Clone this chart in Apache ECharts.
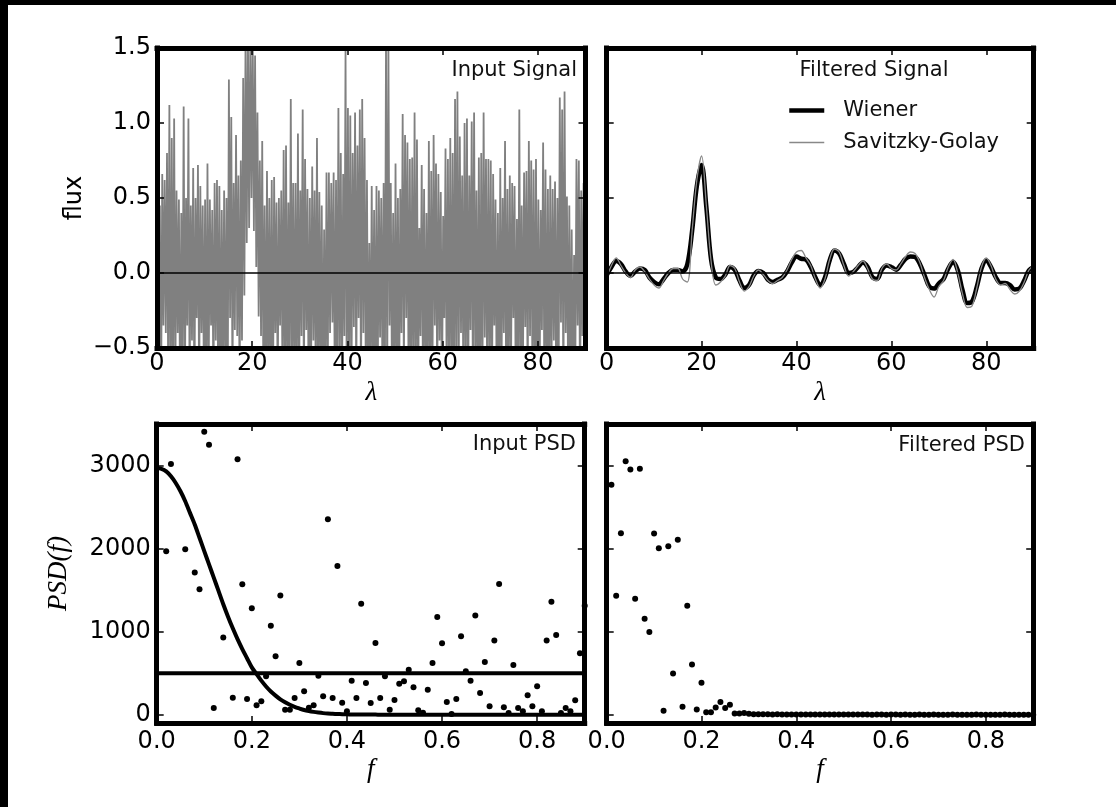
<!DOCTYPE html>
<html><head><meta charset="utf-8">
<script src="https://cdn.jsdelivr.net/npm/echarts@6/dist/echarts.min.js"></script>
<style>html,body{margin:0;padding:0;background:#fff;} #c{width:1116px;height:807px;}</style>
</head><body><div id="c"></div>
<script>
// ---------- DATA ----------
// Input signal: per 0.5-lambda bin, the local maximum and minimum of the noisy flux
const SIG_BIN = 0.5;
const sigHi = [
 0.92,0.45,0.66,0.62,0.80,1.12,0.90,1.03,0.55,0.49,
 0.40,1.11,0.50,1.03,0.45,0.70,0.50,0.72,0.58,0.45,
 0.49,0.73,0.49,0.42,0.60,0.62,0.58,0.42,0.55,0.50,
 1.29,1.04,0.60,0.92,0.65,0.75,1.30,1.60,1.60,1.55,
 1.60,1.45,1.07,0.75,0.88,0.45,0.68,0.50,0.62,0.64,
 0.47,0.50,0.55,0.82,0.85,0.47,1.16,0.60,0.60,0.93,
 0.55,1.09,0.76,0.56,0.50,0.71,0.55,0.90,0.54,0.45,
 0.29,0.67,0.67,0.60,0.67,0.62,1.10,0.80,0.66,1.48,
 1.10,1.05,0.80,1.07,0.85,1.09,1.16,0.90,0.62,0.20,
 0.58,0.42,0.58,0.55,0.50,0.60,1.55,1.55,0.60,0.40,
 0.73,0.50,0.56,1.06,0.92,0.87,0.76,0.77,1.07,0.89,
 0.30,0.72,0.56,0.40,0.88,0.68,0.92,0.73,0.66,0.54,
 0.38,0.83,0.76,0.90,0.80,1.16,1.21,0.91,0.65,1.00,
 1.03,0.65,1.01,1.07,0.55,0.77,0.80,1.07,0.76,0.76,
 0.75,0.66,0.49,0.40,0.70,0.50,0.88,0.56,0.65,0.60,
 0.58,0.36,1.09,0.45,0.67,0.68,0.88,0.75,0.69,0.76,
 0.49,0.42,0.87,0.69,0.56,0.65,0.56,0.61,0.50,1.17,
 1.09,1.21,0.51,0.45,0.29,0.12,0.76,0.75,0.55,0.60
];
const sigLo = [
 -0.8,-0.9,-0.35,-0.4,-0.7,-0.95,-0.8,-0.75,-0.4,-0.9,
 -0.7,-0.85,-0.35,-0.8,-0.45,-0.9,-0.3,-0.8,-0.4,-0.75,
 -0.9,-0.7,-0.35,-0.85,-0.45,-0.8,-0.9,-0.7,-0.8,-0.85,
 -0.3,-0.75,-0.38,-0.42,-0.8,-0.45,-0.15,0.20,0.30,0.50,
 0.28,0.04,-0.29,-0.42,-0.8,-0.9,-0.75,-0.8,-0.95,-0.4,
 -0.8,-0.35,-0.7,-0.9,-0.8,-0.75,-0.85,-0.7,-0.9,-0.8,
 -0.42,-0.8,-0.38,-0.9,-0.75,-0.45,-0.8,-0.85,-0.7,-0.9,
 -0.8,-0.75,-0.4,-0.33,-0.9,-0.8,-0.7,-0.85,-0.42,-0.8,
 -0.9,-0.75,-0.36,-0.8,-0.3,-0.85,-0.4,-0.7,-0.9,-0.8,
 -0.75,-0.85,-0.8,-0.43,-0.7,-0.9,-0.8,-0.35,-0.75,-0.85,
 -0.8,-0.9,-0.4,-0.7,-0.3,-0.85,-0.8,-0.75,-0.9,-0.8,
 -0.42,-0.7,-0.85,-0.8,-0.9,-0.75,-0.35,-0.8,-0.45,-0.9,
 -0.3,-0.8,-0.75,-0.85,-0.9,-0.7,-0.8,-0.4,-0.85,-0.75,
 -0.9,-0.38,-0.8,-0.7,-0.85,-0.9,-0.75,-0.43,-0.8,-0.7,
 -0.9,-0.35,-0.8,-0.85,-0.75,-0.4,-0.9,-0.8,-0.7,-0.3,
 -0.85,-0.8,-0.9,-0.75,-0.36,-0.8,-0.42,-0.7,-0.9,-0.85,
 -0.8,-0.38,-0.75,-0.9,-0.8,-0.7,-0.45,-0.85,-0.8,-0.33,
 -0.9,-0.4,-0.75,-0.8,-0.85,-0.7,-0.35,-0.9,-0.42,-0.8
];
// Filtered signals, sampled at lambda = 0,1,...,90
const LAM_STEP = 1;
const wiener = [
 -0.015,0.04,0.08,0.06,0.01,-0.02,0.01,0.03,0.02,-0.03,
 -0.06,-0.075,-0.04,0.0,0.02,0.02,0.01,0.06,0.28,0.58,
 0.72,0.44,0.09,-0.03,-0.04,-0.01,0.04,0.02,-0.05,-0.10,
 -0.08,-0.015,0.013,0.0,-0.045,-0.06,-0.045,-0.03,0.01,0.07,
 0.11,0.095,0.09,0.04,-0.03,-0.08,-0.03,0.085,0.15,0.13,
 0.06,0.0,0.007,0.04,0.07,0.04,-0.027,-0.04,0.022,0.05,
 0.04,0.022,0.055,0.095,0.11,0.106,0.06,-0.015,-0.09,-0.104,
 -0.07,-0.04,0.03,0.073,0.018,-0.115,-0.2,-0.19,-0.093,0.03,
 0.085,0.04,-0.027,-0.066,-0.066,-0.08,-0.11,-0.104,-0.05,0.018,
 0.04
];
const savgol = [
 -0.03,0.05,0.10,0.05,0.0,-0.03,0.02,0.04,0.01,-0.04,
 -0.08,-0.10,-0.05,0.0,0.03,0.03,-0.04,-0.06,0.28,0.62,
 0.78,0.45,0.08,-0.08,-0.06,-0.02,0.05,0.03,-0.06,-0.12,
 -0.09,-0.02,0.02,-0.01,-0.05,-0.07,-0.05,-0.03,0.02,0.09,
 0.14,0.15,0.10,0.05,-0.04,-0.10,-0.04,0.09,0.16,0.14,
 0.05,-0.02,0.01,0.05,0.08,0.03,-0.04,-0.05,0.03,0.06,
 0.03,0.02,0.06,0.11,0.14,0.13,0.07,-0.03,-0.11,-0.16,
 -0.09,-0.05,0.04,0.09,0.0,-0.14,-0.23,-0.22,-0.10,0.04,
 0.10,0.05,-0.04,-0.08,-0.07,-0.11,-0.14,-0.12,-0.06,0.02,
 0.05
];
// PSDs, sampled at f = 0.00, 0.01, ..., 0.90 (null = outside the plotted range)
const F_STEP = 0.01;
const psdInput = [
 null,null,1969,3017,null,null,1993,null,1711,1511,
 3406,3249,81,null,928,null,205,3077,1571,189,
 1282,113,161,462,1072,703,1434,60,60,201,
 623,281,85,113,470,221,2354,201,1791,145,
 41,410,201,1337,382,141,864,201,462,60,
 177,374,402,542,330,53,24,301,623,1177,
 860,153,8,189,944,523,410,1193,261,635,
 101,892,1575,89,20,599,81,41,233,101,
 342,41,892,1361,960,20,81,41,173,740,
 1313
];
const psdFiltered = [
 null,2770,1432,2185,3053,2953,1396,2961,1156,996,
 2181,2005,48,2029,496,2105,96,1312,604,64,
 384,28,30,88,152,80,120,14,15,20,
 10,6,5,4,5,3,4,3,2,3,
 2,2,3,2,1,2,2,1,2,1,
 1,1,2,1,1,1,0,1,1,0,
 1,1,0,1,0,0,1,0,0,1,
 0,0,0,1,0,0,0,0,1,0,
 0,0,0,0,1,0,0,0,0,0,
 0
];
const signalPSD = [
 2970,2960,2930,2870,2790,2690,2570,2430,2290,2130,
 1970,1810,1650,1490,1330,1180,1040,910,790,680,
 570,490,410,340,280,230,185,150,120,95,
 75,57,44,34,26,19,14,11,8,6,
 4,3,2,2,1,1,1,0,0,0,
 0,0,0,0,0,0,0,0,0,0,
 0,0,0,0,0,0,0,0,0,0,
 0,0,0,0,0,0,0,0,0,0,
 0,0,0,0,0,0,0,0,0,0,
 0
];
const noiseFreq = [0, 0.9];
const noisePSD = [500, 500];

const sigTicksX = [0,20,40,60,80];
const sigTicksY = [-0.5,0,0.5,1.0,1.5];
const psdTicksX = [0,0.2,0.4,0.6,0.8];
const psdTicksY = [0,1000,2000,3000];

// ---------- build series data ----------
const sigData = [];
for (let i = 0; i < sigHi.length; i++) {
  sigData.push([i * SIG_BIN + 0.1, sigHi[i]]);
  sigData.push([i * SIG_BIN + 0.35, sigLo[i]]);
}
const wienerData = wiener.map((v, i) => [i * LAM_STEP, v]);
const sgData = savgol.map((v, i) => [i * LAM_STEP, v]);
const fr = i => +(i * F_STEP).toFixed(2);
const psdInData = [];
psdInput.forEach((v, i) => { if (v !== null) psdInData.push([fr(i), v]); });
const psdFiltData = [];
psdFiltered.forEach((v, i) => { if (v !== null) psdFiltData.push([fr(i), v]); });
const psModelData = signalPSD.map((v, i) => [fr(i), v]);
const pnData = noiseFreq.map((f, i) => [f, noisePSD[i]]);

// ---------- styling helpers ----------
const FONT = 'DejaVu Sans';
const frame = {show: true, onZero: false, lineStyle: {color: '#000', width: 5, cap: 'square'}};
const tickOpt = vals => ({show: true, inside: true, length: 7, customValues: vals, lineStyle: {color: '#000', width: 1.5}});
const labelStyle = {fontFamily: FONT, fontSize: 24, color: '#000'};
const nameStyle = {fontFamily: 'Liberation Serif', fontStyle: 'italic', fontSize: 27, color: '#000'};
const fmt1 = v => (v < 0 ? '\u2212' : '') + Math.abs(v).toFixed(1);
const fmt0 = v => String(Math.round(v));

function xPair(gi, min, max, ticks, fmt, name, gap, margin) {
  return [
    {type: 'value', gridIndex: gi, min, max, position: 'bottom', z: 10,
     axisLine: frame, axisTick: tickOpt(ticks), splitLine: {show: false},
     axisLabel: Object.assign({customValues: ticks, formatter: fmt, margin}, labelStyle),
     name, nameLocation: 'middle', nameGap: gap, nameTextStyle: nameStyle},
    {type: 'value', gridIndex: gi, min, max, position: 'top', z: 10,
     axisLine: frame, axisTick: tickOpt(ticks), splitLine: {show: false}, axisLabel: {show: false}}
  ];
}
function yPair(gi, min, max, ticks, fmt, showLabel, name, gap, nStyle) {
  const main = {type: 'value', gridIndex: gi, min, max, position: 'left', z: 10,
     axisLine: frame, axisTick: tickOpt(ticks), splitLine: {show: false},
     axisLabel: Object.assign({show: showLabel, customValues: ticks, formatter: fmt, margin: 6}, labelStyle)};
  if (name) Object.assign(main, {name, nameLocation: 'middle', nameGap: gap, nameTextStyle: nStyle});
  return [main,
    {type: 'value', gridIndex: gi, min, max, position: 'right', z: 10,
     axisLine: frame, axisTick: tickOpt(ticks), splitLine: {show: false}, axisLabel: {show: false}}];
}

const chart = echarts.init(document.getElementById('c'), null, {renderer: 'canvas'});
const option = {
  animation: false,
  backgroundColor: '#fff',
  graphic: [
    {type: 'rect', shape: {x: 0, y: 0, width: 1116, height: 5}, style: {fill: '#000'}, z: 100},
    {type: 'rect', shape: {x: 0, y: 0, width: 8, height: 807}, style: {fill: '#000'}, z: 100}
  ],
  grid: [
    {left: 157, top: 48, width: 428.5, height: 300},
    {left: 606.7, top: 48, width: 427, height: 300},
    {left: 156.7, top: 424, width: 428, height: 299},
    {left: 606.7, top: 424, width: 426.5, height: 299}
  ],
  xAxis: [].concat(
    xPair(0, 0, 90, sigTicksX, fmt0, 'λ', 31, 4),
    xPair(1, 0, 90, sigTicksX, fmt0, 'λ', 31, 4),
    xPair(2, 0, 0.9, psdTicksX, fmt1, 'f', 33, 7),
    xPair(3, 0, 0.9, psdTicksX, fmt1, 'f', 33, 7)
  ),
  yAxis: [].concat(
    yPair(0, -0.5, 1.5, sigTicksY, fmt1, true, 'flux', 70, {fontFamily: FONT, fontSize: 24, color: '#000'}),
    yPair(1, -0.5, 1.5, sigTicksY, fmt1, false),
    yPair(2, -100, 3500, psdTicksY, fmt0, true, 'PSD(f)', 84, nameStyle),
    yPair(3, -100, 3500, psdTicksY, fmt0, false)
  ),
  title: [
    {text: 'Input Signal', right: 537, top: 58, padding: [2, 2], backgroundColor: '#fff',
     textStyle: {fontFamily: FONT, fontSize: 21, fontWeight: 'normal', color: '#111'}},
    {text: 'Filtered Signal', left: 872, textAlign: 'center', top: 58, padding: [2, 2],
     textStyle: {fontFamily: FONT, fontSize: 21, fontWeight: 'normal', color: '#111'}},
    {text: 'Input PSD', right: 538, top: 432, padding: [2, 2], backgroundColor: '#fff',
     textStyle: {fontFamily: FONT, fontSize: 21, fontWeight: 'normal', color: '#111'}},
    {text: 'Filtered PSD', right: 89, top: 433, padding: [2, 2], backgroundColor: '#fff',
     textStyle: {fontFamily: FONT, fontSize: 21, fontWeight: 'normal', color: '#111'}}
  ],
  legend: {
    orient: 'vertical', left: 787, top: 100, padding: 0, itemWidth: 35, itemHeight: 20, itemGap: 11,
    data: [
      {name: 'Wiener', itemStyle: {opacity: 0}, lineStyle: {width: 4.5, color: '#000'}},
      {name: 'Savitzky-Golay', itemStyle: {opacity: 0}, lineStyle: {width: 1.3, color: '#888'}}
    ],
    textStyle: {fontFamily: FONT, fontSize: 21, color: '#111', padding: [0, 0, 0, 14]}
  },
  series: [
    {name: 'Input signal', type: 'line', xAxisIndex: 0, yAxisIndex: 0, data: sigData,
     symbol: 'none', lineStyle: {color: '#808080', width: 1.8}, z: 2,
     markLine: {silent: true, symbol: ['none', 'none'], label: {show: false},
                lineStyle: {color: '#000', width: 1.5, type: 'solid'}, data: [{yAxis: 0}]}},
    {name: 'Wiener', type: 'line', xAxisIndex: 2, yAxisIndex: 2, data: wienerData,
     symbol: 'none', smooth: 0.35, itemStyle: {color: '#000'}, lineStyle: {color: '#000', width: 4.5}, z: 3,
     markLine: {silent: true, symbol: ['none', 'none'], label: {show: false},
                lineStyle: {color: '#000', width: 1.5, type: 'solid'}, data: [{yAxis: 0}]}},
    {name: 'Savitzky-Golay', type: 'line', xAxisIndex: 2, yAxisIndex: 2, data: sgData,
     symbol: 'none', smooth: 0.35, itemStyle: {color: '#888'}, lineStyle: {color: '#888', width: 1.3}, z: 4},
    {name: 'Input PSD', type: 'scatter', xAxisIndex: 4, yAxisIndex: 4, data: psdInData,
     symbolSize: 6, itemStyle: {color: '#000', opacity: 1}, z: 3},
    {name: 'Signal model', type: 'line', xAxisIndex: 4, yAxisIndex: 4, data: psModelData,
     symbol: 'none', smooth: 0.3, lineStyle: {color: '#000', width: 4}, z: 4},
    {name: 'Noise model', type: 'line', xAxisIndex: 4, yAxisIndex: 4, data: pnData,
     symbol: 'none', lineStyle: {color: '#000', width: 4}, z: 4},
    {name: 'Filtered PSD', type: 'scatter', xAxisIndex: 6, yAxisIndex: 6, data: psdFiltData,
     symbolSize: 6, itemStyle: {color: '#000', opacity: 1}, z: 3}
  ]
};
chart.setOption(option);
</script>
</body></html>
